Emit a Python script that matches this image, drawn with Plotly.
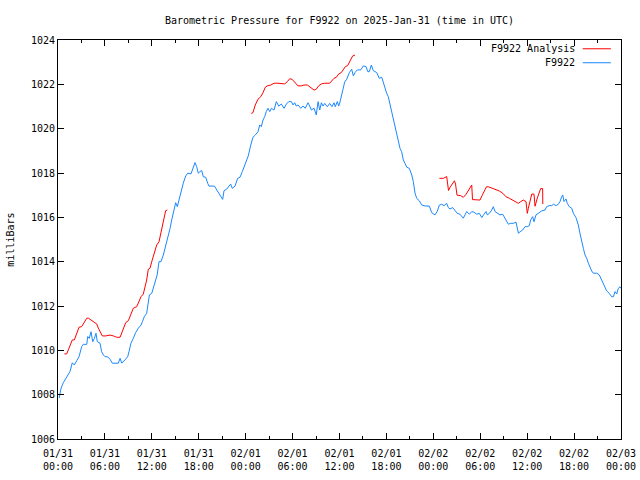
import pandas as pd
import plotly.graph_objects as go

BASE = pd.Timestamp("2025-01-31 00:00")

# F9922 observed pressure: hours since 01/31 00:00 UTC, millibars
obs_hours = [0.15, 0.39, 0.68, 1.11, 1.53, 1.83, 2.09, 2.39, 2.69, 3.03, 3.24, 3.68, 3.8, 4.0, 4.22, 4.44,
             4.65, 4.86, 5.03, 5.37, 5.58, 5.81, 6.02, 6.35, 6.65, 6.95, 7.71, 7.94, 8.15, 8.57, 8.91, 9.08,
             9.33, 9.63, 9.93, 10.28, 10.62, 10.79, 11.04, 11.34, 11.55, 11.69, 11.99, 12.2, 12.41, 12.68,
             12.92, 13.17, 13.47, 13.77, 14.12, 14.33, 14.54, 14.75, 15.05, 15.26, 15.48, 15.74, 16.02,
             16.34, 16.59, 17.01, 17.31, 17.52, 17.73, 17.94, 18.15, 18.38, 18.59, 18.89, 19.14, 19.31,
             20.0, 20.3, 20.6, 20.85, 21.06, 21.23, 21.57, 21.87, 22.08, 22.29, 22.64, 22.98, 23.28, 23.57,
             23.82, 24.14, 24.33, 24.65, 24.93, 25.23, 25.58, 25.8, 26.0, 26.22, 26.43, 26.64, 26.85, 27.08,
             27.29, 27.63, 27.92, 28.23, 28.56, 28.91, 29.21, 29.51, 29.84, 30.06, 30.27, 30.48, 30.69,
             31.04, 31.34, 31.62, 31.97, 32.19, 32.4, 32.75, 33.03, 33.26, 33.47, 33.68, 33.89, 34.11,
             34.44, 34.74, 35.04, 35.3, 35.46, 35.72, 35.9, 36.06, 36.23, 36.45, 36.66, 36.92, 37.26, 37.56,
             37.77, 37.98, 38.28, 38.72, 39.05, 39.39, 39.62, 39.81, 40.07, 40.32, 40.76, 41.09, 41.4, 41.6,
             41.82, 42.03, 42.24, 42.47, 42.68, 42.89, 43.1, 43.32, 43.52, 43.74, 43.95, 44.16, 44.37, 44.6,
             44.93, 45.24, 45.44, 45.66, 45.87, 46.2, 46.52, 46.94, 47.49, 47.79, 48.21, 48.51, 48.77,
             49.07, 49.37, 49.71, 49.92, 50.13, 50.48, 50.78, 51.06, 51.41, 51.63, 51.83, 52.05, 52.26,
             52.61, 52.91, 53.21, 53.55, 53.88, 54.2, 54.48, 54.74, 54.9, 55.16, 55.47, 55.67, 55.89, 56.18,
             56.52, 56.87, 57.17, 57.38, 57.59, 57.9, 58.23, 58.58, 58.74, 58.88, 59.09, 59.43, 59.73,
             60.02, 60.27, 60.45, 60.71, 60.87, 61.13, 61.43, 61.86, 62.28, 62.49, 62.84, 63.14, 63.35,
             63.69, 63.98, 64.2, 64.41, 64.55, 64.71, 64.97, 65.13, 65.39, 65.7, 65.91, 66.24, 66.54, 66.75,
             66.98, 67.19, 67.4, 67.62, 67.83, 68.04, 68.25, 68.46, 68.9, 69.23, 69.53, 69.74, 69.96, 70.17,
             70.5, 70.8, 71.03, 71.24, 71.45, 71.66, 71.88, 71.97]
obs_mb = [1007.85, 1008.29, 1008.54, 1008.81, 1009.04, 1009.44, 1009.34, 1009.53, 1009.71, 1010.17, 1010.27,
          1010.27, 1010.62, 1010.54, 1010.84, 1010.39, 1010.54, 1010.77, 1010.39, 1010.32, 1009.94, 1009.79,
          1009.71, 1009.71, 1009.6, 1009.42, 1009.42, 1009.64, 1009.42, 1009.57, 1009.71, 1009.94, 1010.32,
          1010.54, 1010.8, 1011.0, 1011.14, 1011.29, 1011.52, 1011.67, 1012.12, 1012.5, 1012.57, 1012.85,
          1013.15, 1013.4, 1014.0, 1014.0, 1014.3, 1014.68, 1015.13, 1015.5, 1015.88, 1016.18, 1016.66,
          1016.48, 1016.78, 1017.23, 1017.54, 1017.87, 1017.99, 1017.96, 1018.21, 1018.47, 1018.29, 1017.99,
          1018.06, 1018.11, 1017.83, 1017.81, 1017.54, 1017.41, 1017.41, 1017.23, 1017.11, 1016.96, 1016.81,
          1017.2, 1017.27, 1017.41, 1017.5, 1017.31, 1017.41, 1017.76, 1017.81, 1018.06, 1018.29, 1018.51,
          1018.77, 1019.26, 1019.61, 1019.71, 1019.86, 1020.17, 1020.09, 1020.39, 1020.54, 1020.77, 1020.92,
          1020.77, 1020.92, 1020.84, 1021.22, 1021.02, 1021.11, 1020.92, 1021.11, 1021.22, 1021.22, 1021.07,
          1021.17, 1021.02, 1021.07, 1020.92, 1021.02, 1020.92, 1021.17, 1021.02, 1020.84, 1020.92, 1020.62,
          1021.22, 1020.84, 1021.17, 1021.02, 1021.14, 1020.99, 1021.14, 1020.99, 1021.17, 1020.99, 1021.22,
          1021.02, 1021.2, 1021.52, 1021.78, 1022.1, 1022.23, 1022.53, 1022.68, 1022.38, 1022.53, 1022.65,
          1022.65, 1022.83, 1022.8, 1022.57, 1022.57, 1022.87, 1022.62, 1022.53, 1022.27, 1022.32, 1022.05,
          1021.82, 1021.6, 1021.44, 1021.07, 1020.77, 1020.39, 1020.02, 1019.72, 1019.34, 1019.11, 1018.96,
          1018.59, 1018.44, 1018.26, 1018.21, 1017.91, 1017.61, 1017.09, 1016.86, 1016.75, 1016.56, 1016.51,
          1016.51, 1016.21, 1016.11, 1016.28, 1016.55, 1016.59, 1016.53, 1016.63, 1016.44, 1016.38, 1016.44,
          1016.33, 1016.18, 1016.14, 1016.03, 1015.96, 1016.11, 1016.26, 1016.14, 1016.26, 1016.23, 1016.14,
          1016.18, 1015.99, 1016.14, 1016.26, 1016.11, 1016.18, 1016.33, 1016.48, 1016.26, 1016.18, 1016.11,
          1016.14, 1015.96, 1015.8, 1015.69, 1015.73, 1015.73, 1015.78, 1015.51, 1015.28, 1015.35, 1015.43,
          1015.58, 1015.58, 1015.62, 1015.88, 1016.03, 1015.8, 1016.11, 1016.18, 1016.29, 1016.33, 1016.48,
          1016.53, 1016.53, 1016.59, 1016.53, 1016.59, 1016.71, 1016.93, 1017.01, 1016.71, 1016.83, 1016.63,
          1016.48, 1016.41, 1016.18, 1015.99, 1015.66, 1015.28, 1014.98, 1014.6, 1014.3, 1014.15, 1013.93,
          1013.73, 1013.58, 1013.48, 1013.48, 1013.4, 1013.17, 1013.02, 1012.87, 1012.68, 1012.57, 1012.42,
          1012.42, 1012.65, 1012.54, 1012.8, 1012.87, 1012.8]

# F9922 Analysis: three separate runs (hours, millibars)
ana1_hours = [0.81, 1.11, 1.32, 1.53, 1.83, 2.09, 2.39, 2.69, 3.03, 3.36, 3.68, 3.89, 4.31, 4.65, 4.95, 5.16,
              5.37, 5.67, 6.11, 6.65, 7.08, 7.5, 7.94, 8.15, 8.36, 8.66, 9.0, 9.33, 9.63, 10.07, 10.37, 10.62,
              10.91, 11.13, 11.34, 11.55, 11.76, 11.99, 12.2, 12.41, 12.62, 12.92, 13.17, 13.35, 13.59, 13.77,
              13.98]
ana1_mb = [1009.84, 1009.84, 1010.02, 1010.24, 1010.47, 1010.47, 1010.77, 1011.04, 1011.07, 1011.25, 1011.45,
           1011.45, 1011.34, 1011.25, 1011.19, 1011.0, 1010.84, 1010.65, 1010.65, 1010.69, 1010.65, 1010.59,
           1010.59, 1010.8, 1011.04, 1011.25, 1011.34, 1011.6, 1011.9, 1011.97, 1012.2, 1012.42, 1012.54,
           1012.85, 1013.17, 1013.66, 1013.7, 1014.0, 1014.23, 1014.45, 1014.75, 1014.9, 1015.28, 1015.58,
           1015.96, 1016.3, 1016.33]
ana2_hours = [24.72, 24.93, 25.23, 25.58, 25.92, 26.22, 26.51, 26.76, 27.21, 27.63, 28.14, 28.56, 29.0, 29.33,
              29.63, 29.93, 30.18, 30.48, 30.69, 31.11, 31.46, 31.89, 32.19, 32.49, 32.75, 33.03, 33.33, 33.68,
              34.11, 34.74, 35.04, 35.3, 35.6, 35.9, 36.23, 36.45, 36.75, 37.05, 37.44, 37.68, 37.98]
ana2_mb = [1020.69, 1020.72, 1021.07, 1021.33, 1021.44, 1021.62, 1021.87, 1021.93, 1021.97, 1022.05, 1022.05,
           1022.02, 1022.02, 1022.12, 1022.25, 1022.23, 1022.12, 1022.02, 1021.93, 1021.93, 1021.97, 1021.97,
           1021.9, 1021.82, 1021.74, 1021.78, 1021.93, 1022.02, 1022.05, 1022.05, 1022.16, 1022.27, 1022.32,
           1022.47, 1022.53, 1022.65, 1022.8, 1022.85, 1023.1, 1023.28, 1023.32]
ana3_hours = [48.77, 49.28, 49.71, 49.94, 50.13, 50.39, 50.7, 50.84, 51.03, 51.5, 51.83, 52.19, 52.47, 52.91,
              53.01, 53.46, 53.97, 54.23, 54.48, 54.8, 55.04, 55.35, 55.67, 56.01, 56.43, 56.87, 57.29, 57.72,
              58.16, 58.58, 58.88, 59.18, 59.51, 59.85, 60.02, 60.15, 60.59, 60.87, 61.01, 61.29, 61.73, 61.98,
              62.0]
ana3_mb = [1017.76, 1017.76, 1017.84, 1017.21, 1017.35, 1017.5, 1017.65, 1017.5, 1017.0, 1016.98, 1016.9,
           1017.04, 1017.19, 1017.46, 1016.8, 1016.8, 1016.78, 1016.98, 1017.16, 1017.38, 1017.38, 1017.34,
           1017.28, 1017.23, 1017.19, 1017.09, 1016.93, 1016.86, 1016.78, 1016.68, 1016.63, 1016.71, 1016.78,
           1016.71, 1016.18, 1016.41, 1017.05, 1017.05, 1016.5, 1016.86, 1017.3, 1017.3, 1016.6]

Y_TICKS = [1006, 1008, 1010, 1012, 1014, 1016, 1018, 1020, 1022, 1024]
TITLE = "Barometric Pressure for F9922 on 2025-Jan-31 (time in UTC)"
RED = "#ff0000"
BLUE = "#1a88ff"
FONT = "DejaVu Sans Mono"


def to_time(hours):
    return [BASE + pd.Timedelta(hours=h) for h in hours]


ana_x, ana_y = [], []
for hs, ps in [(ana1_hours, ana1_mb), (ana2_hours, ana2_mb), (ana3_hours, ana3_mb)]:
    if ana_x:
        ana_x.append(None)
        ana_y.append(None)
    ana_x += to_time(hs)
    ana_y += ps

fig = go.Figure()
fig.add_trace(go.Scatter(x=to_time(obs_hours), y=obs_mb, mode="lines", name="F9922",
                         line=dict(color=BLUE, width=1)))
fig.add_trace(go.Scatter(x=ana_x, y=ana_y, mode="lines", name="F9922 Analysis",
                         line=dict(color=RED, width=1), connectgaps=False))

axis_common = dict(showline=True, linecolor="black", linewidth=1, mirror="ticks", ticks="inside",
                   tickcolor="black", showgrid=False, zeroline=False, automargin=False,
                   tickfont=dict(family=FONT, size=10, color="black"))

fig.update_xaxes(type="date", range=[BASE, BASE + pd.Timedelta(hours=72)],
                 dtick=6 * 3600 * 1000, tick0=BASE, tickformat="%m/%d<br>%H:%M", ticklen=6,
                 ticklabelstandoff=5,
                 minor=dict(dtick=3 * 3600 * 1000, ticks="inside", ticklen=3, tickcolor="black"),
                 **axis_common)
fig.update_yaxes(range=[Y_TICKS[0], Y_TICKS[-1]], tickvals=Y_TICKS, ticklen=6, **axis_common)

# gnuplot-style key: text then line sample to its right
legend_items = [("F9922 Analysis", RED, 0.978), ("F9922", BLUE, 0.943)]
for label, color, yy in legend_items:
    fig.add_annotation(x=0.921, y=yy, xref="paper", yref="paper", text=label, showarrow=False,
                       xanchor="right", yanchor="middle", font=dict(family=FONT, size=10, color="black"))
    fig.add_shape(type="line", xref="paper", yref="paper", x0=0.932, x1=0.982, y0=yy, y1=yy,
                  line=dict(color=color, width=1))

fig.add_annotation(x=-0.085, y=0.5, xref="paper", yref="paper", text="milliBars", textangle=-90,
                   showarrow=False, xanchor="center", yanchor="middle",
                   font=dict(family=FONT, size=10, color="black"))

fig.update_layout(
    width=640, height=480,
    margin=dict(l=58, r=19, t=40, b=41, autoexpand=False),
    paper_bgcolor="white", plot_bgcolor="white",
    showlegend=False,
    title=dict(text=TITLE, x=0.5, xref="paper", xanchor="center", y=1 - 20 / 480, yanchor="middle",
               font=dict(family=FONT, size=10, color="black")),
)

fig.write_html("out.html", config={"displayModeBar": False},
               post_script="document.body.style.margin='0';document.body.style.padding='0';")
